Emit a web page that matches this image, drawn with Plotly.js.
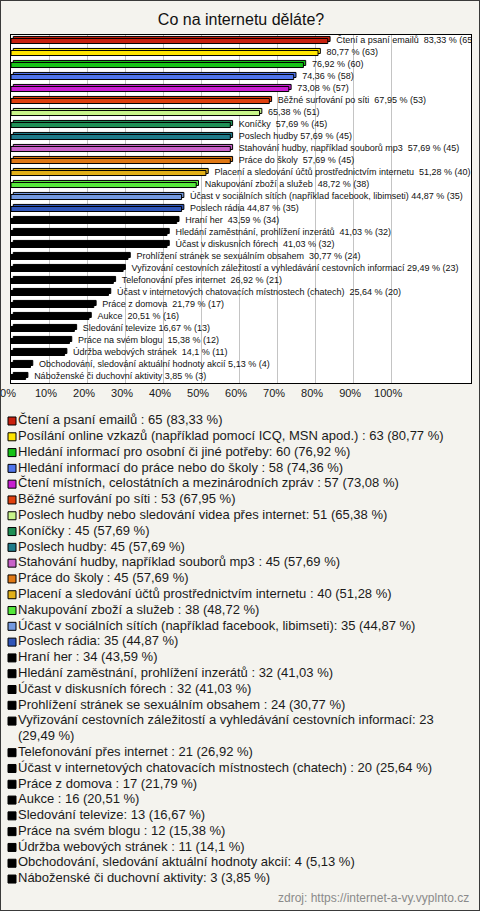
<!DOCTYPE html>
<html><head><meta charset="utf-8">
<script src="https://cdn.plot.ly/plotly-3.0.1.min.js"></script>
<style>
html,body{margin:0;padding:0;background:#f4f3ee;}
#frame{width:478px;height:909px;border:1px solid #3a3a3a;}
#chart{width:478px;height:909px;}
</style></head><body><div id="frame"><div id="chart"></div></div>
<script>
const chartTitle = 'Co na internetu děláte?';
const sourceText = 'zdroj: https://internet-a-vy.vyplnto.cz';

const names = [
  "Čtení a psaní emailů ",
  "Posílání online vzkazů (například pomocí ICQ, MSN apod.) ",
  "Hledání informací pro osobní či jiné potřeby",
  "Hledání informací do práce nebo do školy ",
  "Čtení místních, celostátních a mezinárodních zpráv ",
  "Běžné surfování po síti ",
  "Poslech hudby nebo sledování videa přes internet",
  "Koníčky ",
  "Poslech hudby",
  "Stahování hudby, například souborů mp3 ",
  "Práce do školy ",
  "Placení a sledování účtů prostřednictvím internetu ",
  "Nakupování zboží a služeb ",
  "Účast v sociálních sítích (například facebook, libimseti)",
  "Poslech rádia",
  "Hraní her ",
  "Hledání zaměstnání, prohlížení inzerátů ",
  "Účast v diskusních fórech ",
  "Prohlížení stránek se sexuálním obsahem ",
  "Vyřizování cestovních záležitostí a vyhledávání cestovních informací",
  "Telefonování přes internet ",
  "Účast v internetových chatovacích místnostech (chatech) ",
  "Práce z domova ",
  "Aukce ",
  "Sledování televize",
  "Práce na svém blogu ",
  "Údržba webových stránek ",
  "Obchodování, sledování aktuální hodnoty akcií",
  "Náboženské či duchovní aktivity"
];
const counts = [65,63,60,58,57,53,51,45,45,45,45,40,38,35,35,34,32,32,24,23,21,20,17,16,13,12,11,4,3];
const percents = [83.33,80.77,76.92,74.36,73.08,67.95,65.38,57.69,57.69,57.69,57.69,51.28,48.72,44.87,44.87,43.59,41.03,41.03,30.77,29.49,26.92,25.64,21.79,20.51,16.67,15.38,14.1,5.13,3.85];
const barColors = [
  '#c8200e','#ffe500','#16c316','#4f74ea','#c81ed0','#e0400e','#c8f58a','#1f8f55',
  '#1f7b8a','#c862c8','#e07814','#e2b018','#55e83a','#7399e0','#2f55b8',
  '#000000','#000000','#000000','#000000','#000000','#000000','#000000',
  '#000000','#000000','#000000','#000000','#000000','#000000','#000000'
];
const nameOnBar = [1,0,0,0,0,1,0,1,1,1,1,1,1,1,1,1,1,1,1,1,1,1,1,1,1,1,1,1,1];
const tickVals = [0,10,20,30,40,50,60,70,80,90,100];
const tickText = ['0%','10%','20%','30%','40%','50%','60%','70%','80%','90%','100%'];

const FONT = 'Liberation Sans, Arial, sans-serif';
const fmt = v => String(v).replace('.', ',');
const keepSpaces = s => s.replace(/  /g, ' \u00A0');

const barLabels = names.map((n, i) =>
  keepSpaces((nameOnBar[i] ? n + ' ' : '') + fmt(percents[i]) + ' % (' + counts[i] + ')'));

// legend rows (with simple word wrap)
const WRAP = 74;
const rowText = [], rowColor = [], rowLine = [];
names.forEach((n, i) => {
  const t = n + ': ' + counts[i] + ' (' + fmt(percents[i]) + ' %)';
  let lines = [t];
  if (t.length > WRAP) {
    const k = t.lastIndexOf(' ', WRAP);
    lines = [t.slice(0, k), t.slice(k + 1)];
  }
  lines.forEach((l, j) => {
    rowText.push(keepSpaces(l));
    rowColor.push(j === 0 ? barColors[i] : 'rgba(0,0,0,0)');
    rowLine.push(j === 0 ? 1 : 0);
  });
});
const rowIndex = rowText.map((_, i) => i);

const traces = [
  { // depth (back face)
    type: 'bar', orientation: 'h', x: percents, y: names, base: 0.6,
    width: 0.42, offset: -0.38,
    marker: { color: barColors, line: { color: '#000', width: 1 } },
    hoverinfo: 'skip', showlegend: false
  },
  { // front face
    type: 'bar', orientation: 'h', x: percents, y: names,
    width: 0.42, offset: -0.21,
    marker: { color: barColors, line: { color: '#000', width: 1 } },
    hoverinfo: 'skip', showlegend: false
  },
  { // bar labels
    type: 'scatter', mode: 'markers+text', x: percents, y: names, text: barLabels,
    textposition: 'middle right', cliponaxis: true,
    marker: { size: 12, color: 'rgba(0,0,0,0)' },
    textfont: { family: FONT, size: 9, color: '#111' },
    hoverinfo: 'skip', showlegend: false
  },
  { // custom legend
    type: 'scatter', mode: 'markers+text', xaxis: 'x2', yaxis: 'y2',
    x: rowIndex.map(() => 0), y: rowIndex, text: rowText,
    textposition: 'middle right', cliponaxis: false,
    marker: { symbol: 'square', size: 8, color: rowColor, line: { color: '#000', width: rowLine } },
    textfont: { family: FONT, size: 13, color: '#1a1a1a' },
    hoverinfo: 'skip', showlegend: false
  }
];

const layout = {
  width: 478, height: 909,
  margin: { l: 10, r: 8, t: 34, b: 10 },
  paper_bgcolor: '#f4f3ee', plot_bgcolor: '#f4f3ee',
  font: { family: FONT, color: '#1a1a1a' },
  title: { text: chartTitle, font: { family: FONT, size: 16, color: '#111' },
           x: 0.5, xref: 'paper', y: 0.98, yref: 'container', yanchor: 'middle' },
  barmode: 'overlay',
  showlegend: false,
  xaxis: {
    range: [0, 121], tickvals: tickVals, ticktext: tickText,
    showgrid: true, gridcolor: '#c4c4c4', gridwidth: 1, zeroline: false,
    showline: true, mirror: true, linecolor: '#000', linewidth: 1,
    ticks: '', tickfont: { family: FONT, size: 11, color: '#1a1a1a' },
    ticklabelshift: -3, ticklabeloverflow: 'allow', fixedrange: true
  },
  yaxis: {
    type: 'category', categoryorder: 'array', categoryarray: names,
    range: [names.length - 0.5, -0.5], domain: [0.5977, 1],
    showticklabels: false, showgrid: false, zeroline: false,
    showline: true, mirror: true, linecolor: '#000', linewidth: 1,
    ticks: '', fixedrange: true
  },
  xaxis2: { anchor: 'y2', domain: [0, 1], range: [-1, 459], visible: false, fixedrange: true },
  yaxis2: { anchor: 'x2', domain: [0.0151, 0.5629], range: [rowText.length - 0.5, -0.5],
            visible: false, fixedrange: true },
  shapes: [{
    type: 'rect', xref: 'x domain', yref: 'y domain', x0: 0, x1: 1, y0: 0, y1: 1,
    fillcolor: '#ffffff', line: { width: 0 }, layer: 'below'
  }],
  annotations: [{
    text: sourceText, xref: 'paper', yref: 'paper', x: 1, y: 0.0023,
    xanchor: 'right', yanchor: 'middle', showarrow: false,
    font: { family: FONT, size: 12, color: '#8a8a8a' }
  }]
};

Plotly.newPlot('chart', traces, layout, { displayModeBar: false, staticPlot: true });
</script></body></html>
